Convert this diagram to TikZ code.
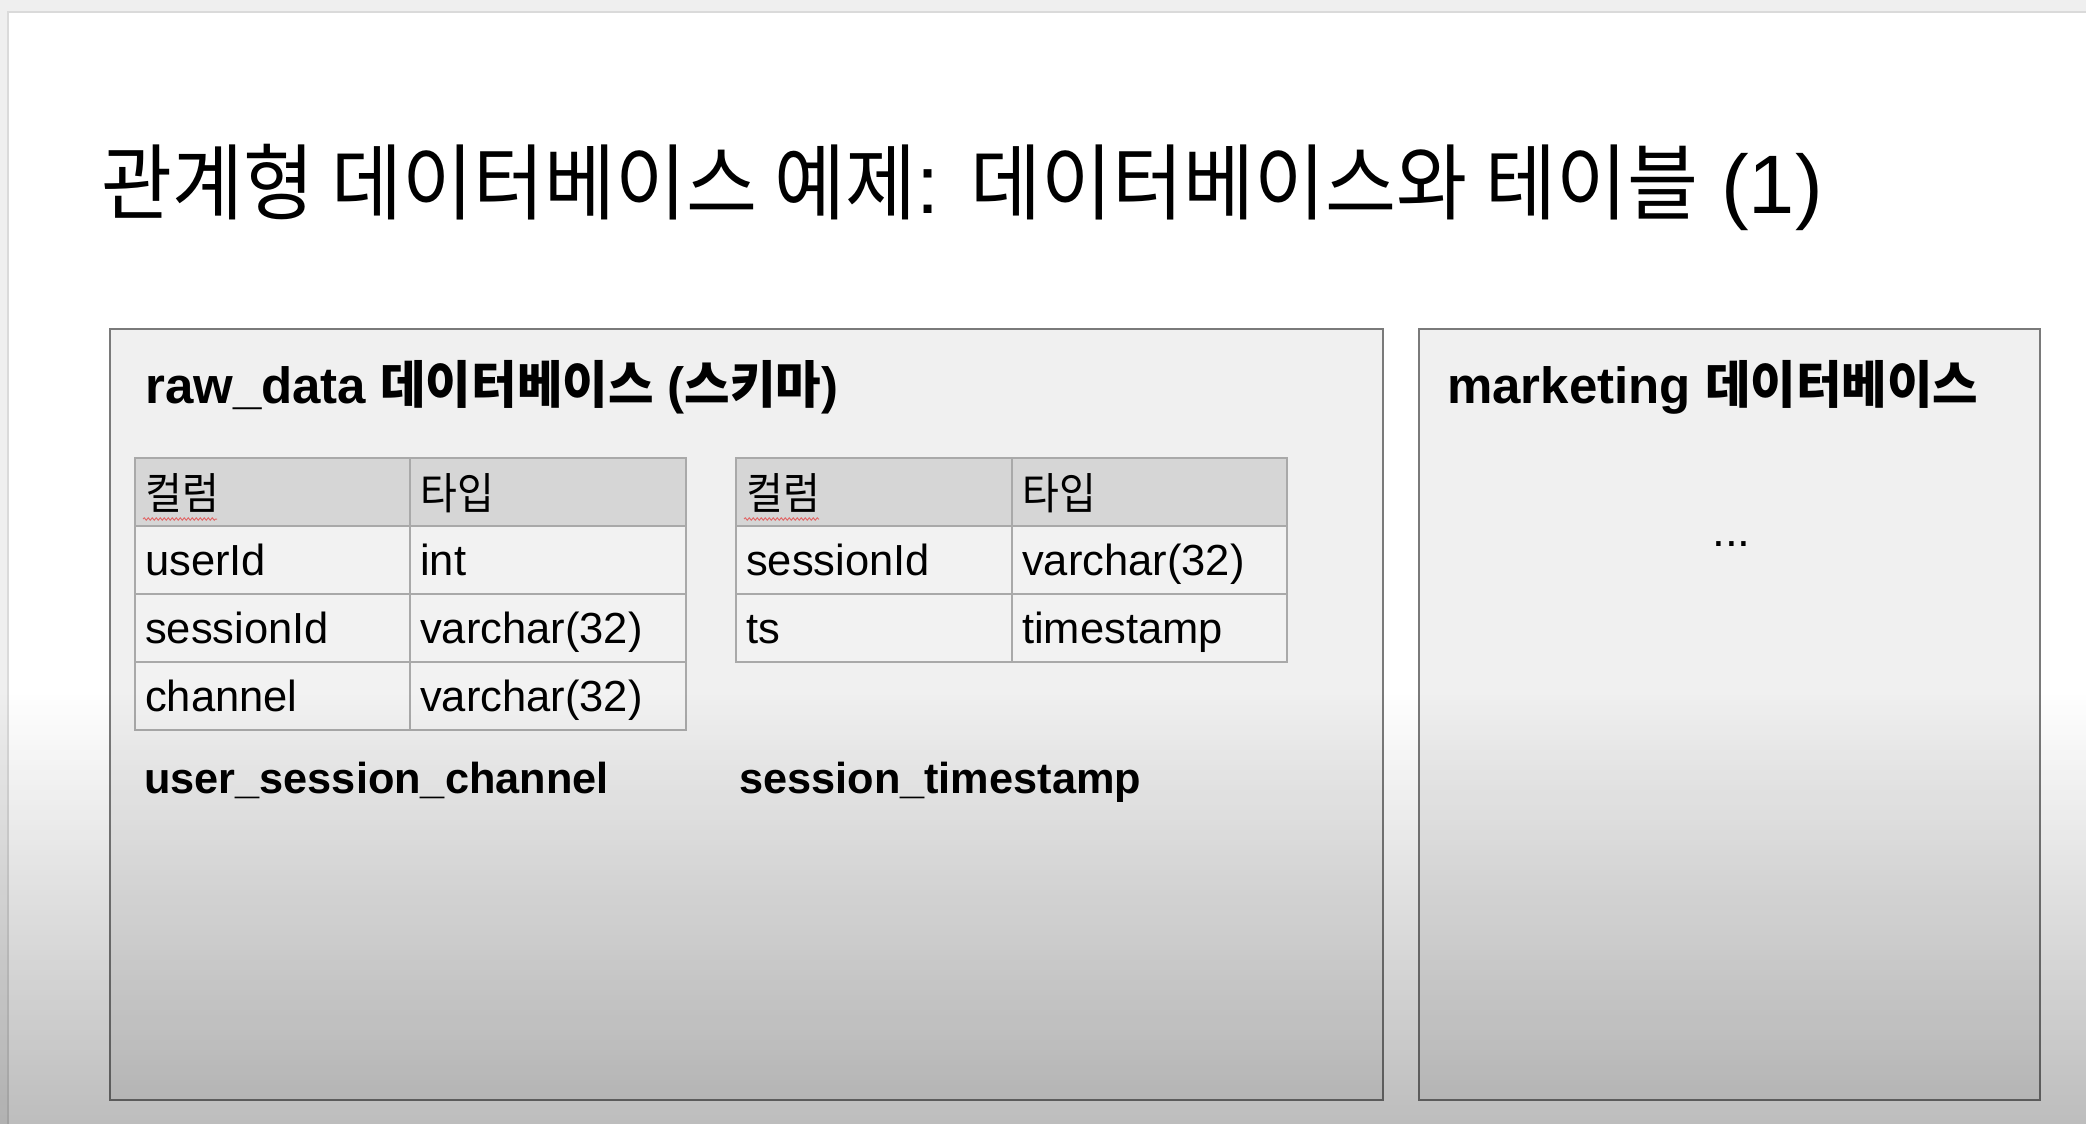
\documentclass[tikz,border=0pt]{standalone}
\usepackage{fontspec}
\setmainfont{Liberation Sans}
\newfontfamily\krfont[FakeStretch=0.92]{Noto Sans CJK KR}
\newfontfamily\krtfont[FakeStretch=0.93]{Noto Sans CJK KR}
\newfontfamily\krbfont[FakeStretch=0.97]{Noto Sans CJK KR}
\newcommand\kor[1]{{\krfont #1}}
\newcommand\kort[1]{{\krtfont #1}}
\newcommand\korb[1]{{\krbfont\bfseries #1}}
\usetikzlibrary{decorations.pathmorphing}
\definecolor{outerbg}{HTML}{EFEFEF}
\definecolor{slideedge}{HTML}{DADADA}
\definecolor{boxfill}{HTML}{F0F0F0}
\definecolor{boxline}{HTML}{7A7A7A}
\definecolor{headfill}{HTML}{D6D6D6}
\definecolor{cellfill}{HTML}{F2F2F2}
\definecolor{cellline}{HTML}{A9A9A9}
\definecolor{squiggle}{HTML}{E06A6A}
\tikzset{
  dbbox/.style={draw=boxline, fill=boxfill, line width=2pt},
  headcell/.style={draw=cellline, fill=headfill, line width=2.5pt},
  datacell/.style={draw=cellline, fill=cellfill, line width=2.5pt},
  celltext/.style={anchor=base west, inner sep=0pt, font=\fontsize{43.5}{52}\selectfont},
  headtext/.style={anchor=base west, inner sep=0pt, font=\fontsize{51}{60}\selectfont\bfseries},
  tabname/.style={anchor=base west, inner sep=0pt, font=\fontsize{43.3}{52}\selectfont\bfseries},
  spell/.style={draw=squiggle, line width=1pt, decorate, decoration={snake, amplitude=1.2pt, segment length=4pt}}
}
\begin{document}
\begin{tikzpicture}[x=1pt,y=-1pt]
\useasboundingbox (0,0) rectangle (2086,1124);
% screen background and slide
\fill[outerbg] (0,0) rectangle (2086,1124);
\fill[white] (8,12) rectangle (2086,1124);
\draw[slideedge, line width=1.5pt] (8,1124) -- (8,12) -- (2086,12);
% title
\node[anchor=base west, inner sep=0pt, font=\fontsize{83}{100}\selectfont] (title) at (101,213)
  {\kort{관계형 데이터베이스 예제}: \kort{데이터베이스와 테이블} (1)};
% database boxes
\draw[dbbox] (110,329) rectangle (1383,1100);
\draw[dbbox] (1419,329) rectangle (2040,1100);
\node[headtext] (rawhead) at (145,403) {raw\_data \korb{데이터베이스} (\korb{스키마})};
\node[headtext] (mkthead) at (1447,403) {marketing \korb{데이터베이스}};
\node[anchor=base west, inner sep=0pt, font=\fontsize{46}{54}\selectfont] (dots) at (1712,546) {...};
% table 1
\draw[headcell] (135,458) rectangle (410,526);
\draw[headcell] (410,458) rectangle (686,526);
\foreach \ya/\yb in {526/594, 594/662, 662/730} {
  \draw[datacell] (135,\ya) rectangle (410,\yb);
  \draw[datacell] (410,\ya) rectangle (686,\yb);
}
\node[celltext] (t1h1) at (145,509) {\kor{컬럼}};
\node[celltext] (t1h2) at (420,509) {\kor{타입}};
\draw[spell] (143,519) -- (217,519);
\node[celltext] (t1a1) at (145,575) {userId};
\node[celltext] (t1a2) at (420,575) {int};
\node[celltext] (t1b1) at (145,643) {sessionId};
\node[celltext] (t1b2) at (420,643) {varchar(32)};
\node[celltext] (t1c1) at (145,711) {channel};
\node[celltext] (t1c2) at (420,711) {varchar(32)};
\node[tabname] (t1name) at (144,793) {user\_session\_channel};
% table 2
\draw[headcell] (736,458) rectangle (1012,526);
\draw[headcell] (1012,458) rectangle (1287,526);
\foreach \ya/\yb in {526/594, 594/662} {
  \draw[datacell] (736,\ya) rectangle (1012,\yb);
  \draw[datacell] (1012,\ya) rectangle (1287,\yb);
}
\node[celltext] (t2h1) at (746,509) {\kor{컬럼}};
\node[celltext] (t2h2) at (1022,509) {\kor{타입}};
\draw[spell] (744,519) -- (819,519);
\node[celltext] (t2a1) at (746,575) {sessionId};
\node[celltext] (t2a2) at (1022,575) {varchar(32)};
\node[celltext] (t2b1) at (746,643) {ts};
\node[celltext] (t2b2) at (1022,643) {timestamp};
\node[tabname] (t2name) at (739,793) {session\_timestamp};
% darkening gradient toward the bottom
\foreach \i in {0,...,86} {
  \pgfmathsetmacro\op{0.26*(\i+0.5)/87}
  \pgfmathtruncatemacro\ya{690+5*\i}
  \pgfmathtruncatemacro\yb{695+5*\i}
  \fill[black, opacity=\op] (0,\ya) rectangle (2086,\yb);
}
\end{tikzpicture}
\end{document}
